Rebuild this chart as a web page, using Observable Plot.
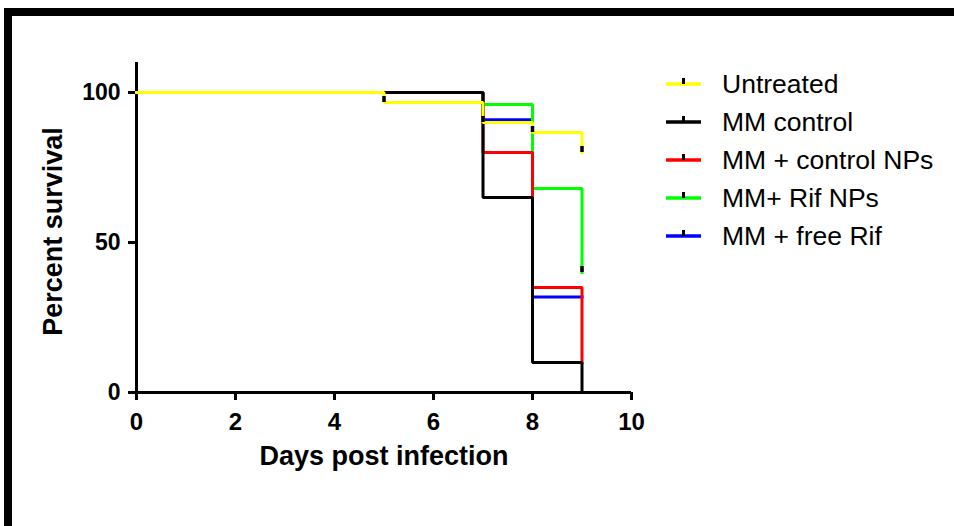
<!DOCTYPE html>
<html>
<head>
<meta charset="utf-8">
<script src="https://cdn.jsdelivr.net/npm/d3@7"></script>
<script src="https://cdn.jsdelivr.net/npm/@observablehq/plot@0.6"></script>
<style>
  html, body { margin: 0; padding: 0; background: #fff; }
  #wrap { position: relative; width: 954px; height: 526px; overflow: hidden; background: #fff; font-family: "Liberation Sans", Arial, sans-serif; }
  #frame { position: absolute; left: 4px; top: 8px; right: -20px; bottom: -20px; border-top: 8px solid #000; border-left: 8px solid #000; }
  #chart { position: absolute; left: 0; top: 0; }
  #legend { position: absolute; left: 666px; top: 65px; }
  .row { display: flex; align-items: center; height: 38px; }
  .row svg { display: block; }
  .row span { margin-left: 21px; font-size: 26.5px; color: #000; white-space: nowrap; line-height: 38px; }
  #chart svg g[aria-label="x-axis tick"], #chart svg g[aria-label="y-axis tick"] { stroke-width: 3px; }
  #chart svg g[aria-label="x-axis tick label"], #chart svg g[aria-label="y-axis tick label"] { font-weight: bold; }
</style>
</head>
<body>
<div id="wrap">
  <div id="frame"></div>
  <div id="chart"></div>
  <div id="legend"></div>
</div>
<script>
// Series names and colours (legend order)
const seriesNames = ["Untreated", "MM control", "MM + control NPs", "MM+ Rif NPs", "MM + free Rif"];
const seriesColors = ["#ffff00", "#000000", "#ff0000", "#00ff00", "#0000ff"];

// Kaplan-Meier step points: days and percent survival
const untreatedDays = [0, 5, 7, 8, 9];
const untreatedPct  = [100, 96.67, 90, 86.67, 80];
const mmControlDays = [0, 7, 8, 9];
const mmControlPct  = [100, 65, 10, 0];
const controlNPsDays = [0, 7, 8, 9];
const controlNPsPct  = [100, 80, 35, 10];
const rifNPsDays = [0, 7, 8, 9];
const rifNPsPct  = [100, 96, 68, 40];
const freeRifDays = [0, 7, 8, 9];
const freeRifPct  = [100, 90.9, 31.8, 31.8];

// Censor tick marks (days) per series
const untreatedCensor = [5, 7, 8, 9];
const rifNPsCensor = [9];

// Axis ticks
const xTicks = [0, 2, 4, 6, 8, 10];
const yTicks = [0, 50, 100];

const seriesDays = [untreatedDays, mmControlDays, controlNPsDays, rifNPsDays, freeRifDays];
const seriesPct = [untreatedPct, mmControlPct, controlNPsPct, rifNPsPct, freeRifPct];

const series = seriesNames.map((name, i) => ({
  name, color: seriesColors[i],
  pts: seriesDays[i].map((d, j) => ({day: d, pct: seriesPct[i][j], name}))
}));

function valueAt(s, day) {
  let v = s.pts[0].pct;
  for (const p of s.pts) if (p.day <= day) v = p.pct;
  return v;
}
const censors = [
  ...untreatedCensor.map(d => ({day: d, pct: valueAt(series[0], d)})),
  ...rifNPsCensor.map(d => ({day: d, pct: valueAt(series[3], d)}))
];

// drawing order: bottom to top
const drawOrder = [4, 3, 2, 1, 0];

const chart = Plot.plot({
  width: 954,
  height: 526,
  marginLeft: 136,
  marginRight: 323,
  marginTop: 62,
  marginBottom: 134,
  style: {fontFamily: "'Liberation Sans', Arial, sans-serif", background: "transparent", color: "#000"},
  x: {domain: [0, 10]},
  y: {domain: [0, 110]},
  marks: [
    Plot.axisX({ticks: xTicks, tickSize: 8, strokeWidth: 3, tickPadding: 12, fontSize: 24, fontWeight: "bold", label: null}),
    Plot.axisY({ticks: yTicks, tickSize: 8, strokeWidth: 3, tickPadding: 8, fontSize: 23, fontWeight: "bold", label: null}),
    Plot.ruleY([0], {stroke: "#000", strokeWidth: 3}),
    Plot.ruleX([0], {stroke: "#000", strokeWidth: 3}),
    ...drawOrder.map(i => Plot.line(series[i].pts, {
      x: "day", y: "pct", curve: "step-after",
      stroke: series[i].color, strokeWidth: 3, strokeLinejoin: "miter", strokeLinecap: "square"
    })),
    Plot.ruleX(censors, {x: "day", y1: "pct", y2: d => d.pct + 2, stroke: "#000", strokeWidth: 3.5}),
    Plot.text(["Days post infection"], {frameAnchor: "bottom", dy: 64, fontSize: 27, fontWeight: "bold", lineAnchor: "middle", textAnchor: "middle"}),
    Plot.text(["Percent survival"], {frameAnchor: "left", rotate: -90, dx: -83, dy: 4, fontSize: 27, fontWeight: "bold", lineAnchor: "middle", textAnchor: "middle"})
  ]
});
document.getElementById("chart").appendChild(chart);

// Legend
const legend = document.getElementById("legend");
seriesNames.forEach((name, i) => {
  const row = document.createElement("div");
  row.className = "row";
  row.innerHTML = `<svg width="35" height="38"><line x1="0" x2="35" y1="19" y2="19" stroke="${seriesColors[i]}" stroke-width="3.5"/><line x1="17.5" x2="17.5" y1="13" y2="19" stroke="#000" stroke-width="3"/></svg><span>${name}</span>`;
  legend.appendChild(row);
});
</script>
</body>
</html>
